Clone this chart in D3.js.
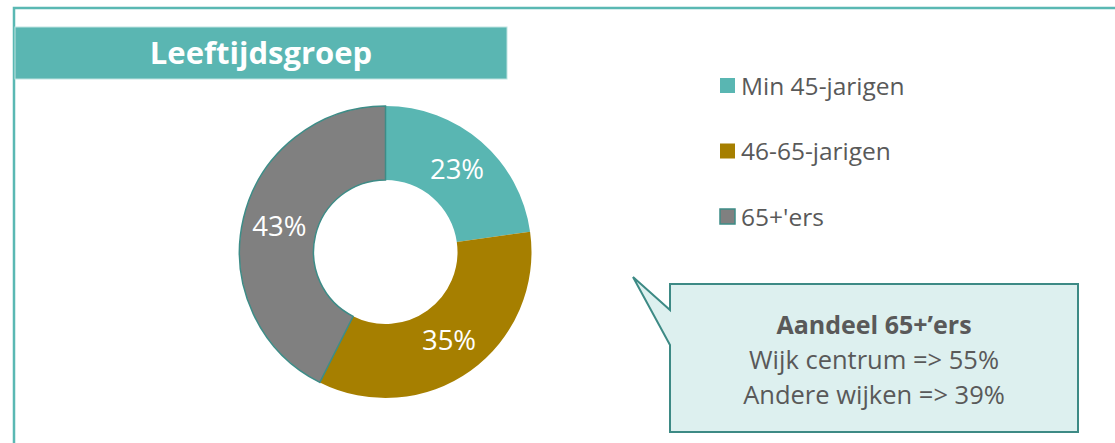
<!DOCTYPE html>
<html><head><meta charset="utf-8">
<script src="https://cdn.jsdelivr.net/npm/d3@7/dist/d3.min.js"></script>
<style>body{margin:0;background:#fff;}svg{display:block;}</style>
</head><body>
<svg id="c" width="1115" height="443"></svg>
<script>
const categories = ["Min 45-jarigen", "46-65-jarigen", "65+'ers"];
const values = [23, 35, 43];
const labels = ["23%", "35%", "43%"];
const colors = ["#59b6b2", "#a67f00", "#808080"];
const title = "Leeftijdsgroep";
const calloutLines = ["Aandeel 65+’ers", "Wijk centrum => 55%", "Andere wijken => 39%"];

const svg = d3.select("#c");
const font = "'Open Sans', sans-serif";

// frame
svg.append("path").attr("d", "M14,443 V8 H1115").attr("fill", "none")
  .attr("stroke", "#5ab8b3").attr("stroke-width", 2.5);

// title bar
svg.append("rect").attr("x", 15).attr("y", 27).attr("width", 492).attr("height", 52)
  .attr("fill", "#5ab6b2").attr("stroke", "#bfe3e1").attr("stroke-width", 1);
svg.append("text").attr("x", 261).attr("y", 53).attr("dy", "0.35em").attr("text-anchor", "middle")
  .attr("font-family", font).attr("font-weight", "bold").attr("font-size", 31)
  .attr("fill", "#fff").text(title);

// donut
const cx = 385.5, cy = 252, rOut = 146, rIn = 72;
const pie = d3.pie().sort(null).value(d => d)(values);
const arc = d3.arc().innerRadius(rIn).outerRadius(rOut);
const g = svg.append("g").attr("transform", `translate(${cx},${cy})`);
g.selectAll("path").data(pie).join("path")
  .attr("d", arc).attr("fill", (d, i) => colors[i])
  .attr("stroke", (d, i) => i === 2 ? "#3d8c87" : "none").attr("stroke-width", 1.5);
const labelArc = d3.arc().innerRadius((rIn + rOut) / 2).outerRadius((rIn + rOut) / 2);
g.selectAll("text").data(pie).join("text")
  .attr("transform", d => `translate(${labelArc.centroid(d)})`)
  .attr("text-anchor", "middle").attr("dy", "0.35em")
  .attr("font-family", font).attr("font-size", 27.5).attr("fill", "#fff")
  .text((d, i) => labels[i]);

// legend
const legY = d3.scalePoint().domain(categories).range([86, 217]);
const leg = svg.append("g");
categories.forEach((c, i) => {
  leg.append("rect").attr("x", 720).attr("y", legY(c) - 8).attr("width", 15).attr("height", 15)
    .attr("fill", colors[i]).attr("stroke", i === 2 ? "#3d8c87" : "none").attr("stroke-width", 1.5);
  leg.append("text").attr("x", 741).attr("y", legY(c)).attr("dy", "0.35em")
    .attr("font-family", font).attr("font-size", 24.5).attr("fill", "#595959").text(c);
});

// callout
svg.append("path")
  .attr("d", "M670,284 H1078 V432 H670 V345 L633,277 L670,310 Z")
  .attr("fill", "#ddf0ef").attr("stroke", "#3d8a85").attr("stroke-width", 2).attr("stroke-linejoin", "miter");
const lineY = d3.scalePoint().domain(calloutLines).range([325, 395]);
calloutLines.forEach((t, i) => {
  svg.append("text").attr("x", 874).attr("y", lineY(t)).attr("dy", "0.35em")
    .attr("text-anchor", "middle").attr("font-family", font)
    .attr("font-size", i === 0 ? 25 : 25.5)
    .attr("font-weight", i === 0 ? "bold" : "normal").attr("fill", "#595959").text(t);
});
</script>
</body></html>
